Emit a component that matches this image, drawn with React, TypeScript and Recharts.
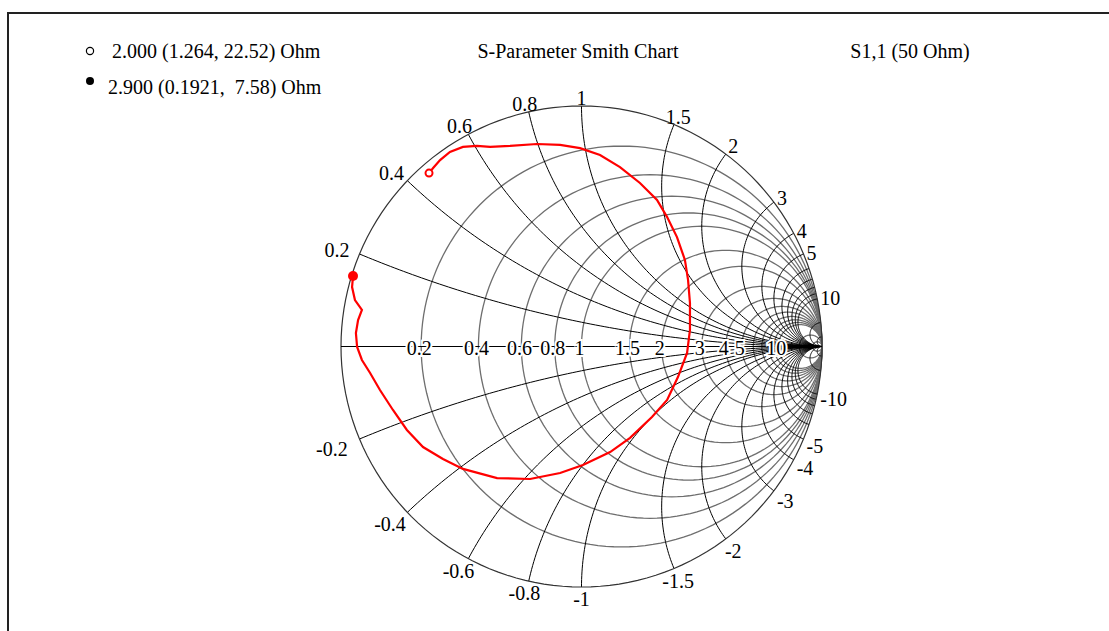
import React from 'react';
import { ScatterChart, Scatter, XAxis, YAxis } from 'recharts';

// grid values of the Smith chart (normalised to 50 Ohm)
const resistanceValues = [0.2, 0.4, 0.6, 0.8, 1, 1.5, 2, 3, 4, 5, 6, 7, 8, 9, 10, 20, 50];
const reactanceValues = [0.2, 0.4, 0.6, 0.8, 1, 1.5, 2, 3, 4, 5, 6, 7, 8, 9, 10, 20, 50];
const resistanceLabels = [0.2, 0.4, 0.6, 0.8, 1, 1.5, 2, 3, 4, 5, 10];
const reactanceLabels = [0.2, 0.4, 0.6, 0.8, 1, 1.5, 2, 3, 4, 5, 10];

// S1,1 trace, reflection coefficient
const traceRe = [
  -0.634, -0.617, -0.588, -0.547, -0.493, -0.435, -0.38, -0.297, -0.185, -0.089, -0.006, 0.077,
  0.16, 0.243, 0.314, 0.356, 0.397, 0.43, 0.443, 0.451, 0.451, 0.439, 0.401, 0.356, 0.293, 0.202,
  0.119, 0.006, -0.089, -0.214, -0.351, -0.493, -0.576, -0.659, -0.726, -0.784, -0.838, -0.879,
  -0.913, -0.933, -0.938, -0.929, -0.913, -0.942, -0.954, -0.95,
];
const traceIm = [
  0.721, 0.742, 0.775, 0.809, 0.83, 0.834, 0.83, 0.834, 0.842, 0.838, 0.825, 0.796,
  0.746, 0.68, 0.609, 0.538, 0.455, 0.36, 0.277, 0.181, 0.069, -0.027, -0.127, -0.222, -0.293, -0.38,
  -0.439, -0.493, -0.526, -0.551, -0.547, -0.509, -0.468, -0.418, -0.347, -0.264, -0.181, -0.11,
  -0.056, -0.002, 0.056, 0.11, 0.152, 0.193, 0.247, 0.293,
];

const FONT = '"Liberation Serif", "Times New Roman", serif';
const FS = 20;

type Pt = { x: number; y: number; label?: string };

const resistanceCircle = (r: number): Pt[] => {
  const c = r / (r + 1);
  const rad = 1 / (r + 1);
  const pts: Pt[] = [];
  for (let i = 0; i <= 160; i++) {
    const a = (i / 160) * Math.PI * 2;
    pts.push({ x: c + rad * Math.cos(a), y: rad * Math.sin(a) });
  }
  return pts;
};

const reactanceArc = (x: number, sign: number): Pt[] => {
  const cy = 1 / x;
  const ix = (x * x - 1) / (x * x + 1);
  const iy = (2 * x) / (x * x + 1);
  let a0 = Math.atan2(iy - cy, ix - 1);
  if (a0 < 0) a0 += Math.PI * 2;
  const a1 = Math.PI * 1.5;
  const pts: Pt[] = [];
  for (let i = 0; i <= 100; i++) {
    const a = a0 + ((a1 - a0) * i) / 100;
    pts.push({ x: 1 + cy * Math.cos(a), y: sign * (cy + cy * Math.sin(a)) });
  }
  return pts;
};

const textWidth = (s: string) =>
  s.split('').reduce((w, ch) => w + (ch === '.' ? 0.25 : ch === '-' ? 0.333 : 0.5), 0) * FS;

const Empty = () => <g />;

const AxisLabel = (props: any) => {
  const { cx, cy, payload } = props;
  return (
    <text x={cx - 2} y={cy + 1} textAnchor="middle" dominantBaseline="central" fontSize={FS}
      fontFamily={FONT} fill="#000" stroke="#fff" strokeWidth={4} paintOrder="stroke">
      {payload.label}
    </text>
  );
};

const RimLabel = (props: any) => {
  const { cx, cy, payload } = props;
  const phi = Math.atan2(payload.y, payload.x);
  const c = Math.cos(phi);
  const s = Math.sin(phi);
  const w = textWidth(payload.label);
  const k = 3;
  const tx = Math.abs(c) > 1e-6 ? (w / 2 + k) / Math.abs(c) : Infinity;
  const ty = Math.abs(s) > 1e-6 ? (7 + k) / Math.abs(s) : Infinity;
  const t = Math.min(tx, ty);
  const bias = c < 0 ? c * w * 0.3 : 0;
  return (
    <text x={cx + c * t + bias} y={cy - s * t + 2} textAnchor="middle" dominantBaseline="central"
      fontSize={FS} fontFamily={FONT} fill="#000">
      {payload.label}
    </text>
  );
};

const OpenDot = (props: any) => (
  <circle cx={props.cx} cy={props.cy} r={3.5} fill="#fff" stroke="#ff0000" strokeWidth={2} />
);
const FilledDot = (props: any) => <circle cx={props.cx} cy={props.cy} r={5} fill="#ff0000" />;

const App: React.FC = () => {
  const trace: Pt[] = traceRe.map((x, i) => ({ x, y: traceIm[i] }));
  const axisLabelPts: Pt[] = resistanceLabels.map((r) => ({ x: (r - 1) / (r + 1), y: 0, label: String(r) }));
  const rimLabelPts: Pt[] = [];
  reactanceLabels.forEach((x) => {
    const gx = (x * x - 1) / (x * x + 1);
    const gy = (2 * x) / (x * x + 1);
    rimLabelPts.push({ x: gx, y: gy, label: String(x) });
    rimLabelPts.push({ x: gx, y: -gy, label: '-' + x });
  });

  return (
    <div style={{ position: 'fixed', left: 0, top: 0, width: 1109, height: 631, background: '#fff', overflow: 'hidden' }}>
      <div style={{ position: 'absolute', left: 7, top: 12, width: 1110, height: 630, borderLeft: '2px solid #222', borderTop: '2px solid #222' }} />
      <svg width={1109} height={631} style={{ position: 'absolute', left: 0, top: 0 }}>
        <g fontFamily={FONT} fontSize={FS} fill="#000">
          <circle cx={90} cy={51} r={3.6} fill="#fff" stroke="#000" strokeWidth={1.2} />
          <text x={112} y={51} dominantBaseline="central">2.000 (1.264, 22.52) Ohm</text>
          <circle cx={90} cy={81} r={4} fill="#000" />
          <text x={108} y={87} dominantBaseline="central" style={{ whiteSpace: 'pre' }}>{'2.900 (0.1921,  7.58) Ohm'}</text>
          <text x={578} y={51} textAnchor="middle" dominantBaseline="central">S-Parameter Smith Chart</text>
          <text x={910} y={51} textAnchor="middle" dominantBaseline="central">S1,1 (50 Ohm)</text>
        </g>
      </svg>
      <div style={{ position: 'absolute', left: 0, top: 0 }}>
        <ScatterChart width={1109} height={631} margin={{ top: 106, right: 287, bottom: 44, left: 341 }}>
          <XAxis type="number" dataKey="x" domain={[-1, 1]} hide />
          <YAxis type="number" dataKey="y" domain={[-1, 1]} hide />
          {resistanceValues.map((r) => (
            <Scatter key={'r' + r} data={resistanceCircle(r)} line={{ stroke: '#6e6e6e', strokeWidth: 1.3 }}
              shape={Empty} isAnimationActive={false} />
          ))}
          {reactanceValues.map((x) => (
            <Scatter key={'xp' + x} data={reactanceArc(x, 1)} line={{ stroke: '#000', strokeWidth: 1 }}
              shape={Empty} isAnimationActive={false} />
          ))}
          {reactanceValues.map((x) => (
            <Scatter key={'xn' + x} data={reactanceArc(x, -1)} line={{ stroke: '#000', strokeWidth: 1 }}
              shape={Empty} isAnimationActive={false} />
          ))}
          <Scatter data={resistanceCircle(0)} line={{ stroke: '#333', strokeWidth: 1.2 }} shape={Empty} isAnimationActive={false} />
          <Scatter data={[{ x: -1, y: 0 }, { x: 1, y: 0 }]} line={{ stroke: '#000', strokeWidth: 1.2 }} shape={Empty} isAnimationActive={false} />
          <Scatter data={axisLabelPts} shape={AxisLabel} isAnimationActive={false} />
          <Scatter data={rimLabelPts} shape={RimLabel} isAnimationActive={false} />
          <Scatter data={trace} line={{ stroke: '#ff0000', strokeWidth: 2.2 }} shape={Empty} isAnimationActive={false} />
          <Scatter data={trace.slice(0, 1)} shape={OpenDot} isAnimationActive={false} />
          <Scatter data={trace.slice(-1)} shape={FilledDot} isAnimationActive={false} />
        </ScatterChart>
      </div>
    </div>
  );
};

export default App;
